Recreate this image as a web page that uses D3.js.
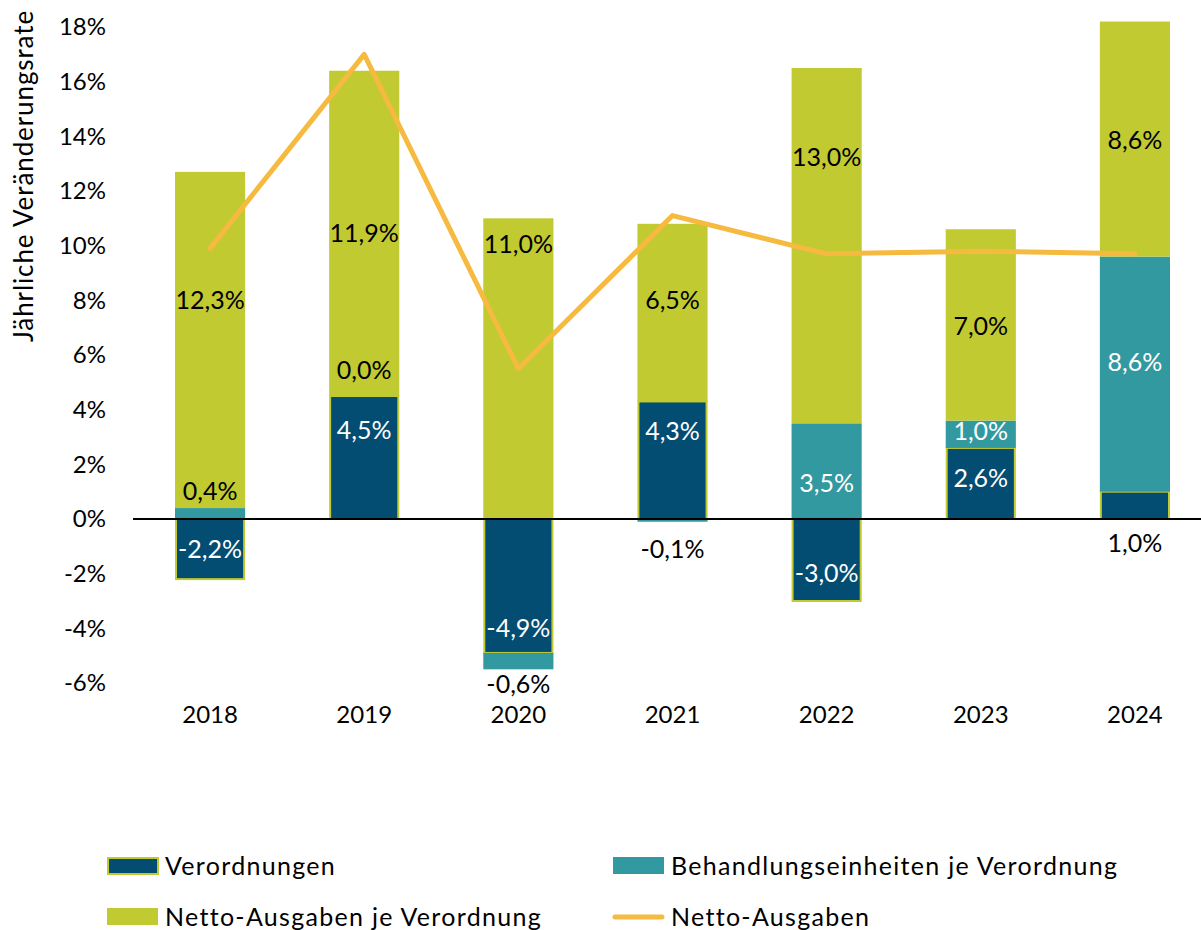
<!DOCTYPE html>
<html>
<head>
<meta charset="utf-8">
<script src="https://cdn.jsdelivr.net/npm/d3@7"></script>
<style>
  html, body { margin: 0; padding: 0; background: #fff; }
  svg { display: block; font-family: Lato, "Open Sans", sans-serif; }
</style>
</head>
<body>
<svg id="chart" width="1201" height="930"></svg>
<script>
// Chart values
const years = ['2018', '2019', '2020', '2021', '2022', '2023', '2024'];
const verordnungen = [-2.2, 4.5, -4.9, 4.3, -3.0, 2.6, 1.0];
const behandlungseinheiten = [0.4, 0.0, -0.6, -0.1, 3.5, 1.0, 8.6];
const nettoJeVerordnung = [12.3, 11.9, 11.0, 6.5, 13.0, 7.0, 8.6];
const nettoAusgaben = [9.9, 17.0, 5.5, 11.1, 9.7, 9.8, 9.7];
const yTicks = [-6, -4, -2, 0, 2, 4, 6, 8, 10, 12, 14, 16, 18];

const seriesNames = ['Verordnungen', 'Behandlungseinheiten je Verordnung', 'Netto-Ausgaben je Verordnung'];
const lineName = 'Netto-Ausgaben';

const colors = {
  Verordnungen: '#034c72',
  'Behandlungseinheiten je Verordnung': '#3399a0',
  'Netto-Ausgaben je Verordnung': '#c1ca31',
  line: '#f6ba40',
};

const svg = d3.select('#chart');
// German style: comma decimal, plain hyphen as minus
const de = d3.formatLocale({ decimal: ',', thousands: '.', grouping: [3], currency: ['', ' €'], minus: '-' });
const fmt = (v) => de.format('.1f')(v) + '%';

const x = d3.scaleBand().domain(years).range([133, 1212])
  .paddingInner(0.545).paddingOuter(0.2725);
const y = d3.scaleLinear().domain([-6, 18]).range([683, 27]);

const table = years.map((yr, i) => ({
  year: yr,
  Verordnungen: verordnungen[i],
  'Behandlungseinheiten je Verordnung': behandlungseinheiten[i],
  'Netto-Ausgaben je Verordnung': nettoJeVerordnung[i],
}));

const stacked = d3.stack().keys(seriesNames).offset(d3.stackOffsetDiverging)(table);

// bars
const groups = svg.append('g').selectAll('g').data(stacked).join('g')
  .attr('fill', (s) => colors[s.key]);

groups.selectAll('rect').data((s) => s.map((d) => ({ key: s.key, d })))
  .join('rect')
  .attr('x', (o) => x(o.d.data.year) + (o.key === 'Verordnungen' ? 1 : 0))
  .attr('width', (o) => x.bandwidth() - (o.key === 'Verordnungen' ? 2 : 0))
  .attr('y', (o) => y(Math.max(o.d[0], o.d[1])))
  .attr('height', (o) => Math.abs(y(o.d[0]) - y(o.d[1])))
  .attr('stroke', (o) => (o.key === 'Verordnungen' ? colors['Netto-Ausgaben je Verordnung'] : 'none'))
  .attr('stroke-width', 2);

// zero line
svg.append('line')
  .attr('x1', 133).attr('x2', 1201)
  .attr('y1', y(0)).attr('y2', y(0))
  .attr('stroke', '#000').attr('stroke-width', 2);

// y axis (labels only)
const yAxis = svg.append('g')
  .attr('transform', 'translate(106,0)')
  .call(d3.axisLeft(y).tickValues(yTicks).tickSize(0).tickPadding(0).tickFormat((d) => d + '%'));
yAxis.select('.domain').remove();
yAxis.selectAll('text').attr('font-size', 24).attr('font-family', 'Lato, sans-serif').attr('fill', '#000');

// x axis (labels only)
const xAxis = svg.append('g')
  .attr('transform', 'translate(0,706)')
  .call(d3.axisBottom(x).tickSize(0).tickPadding(0));
xAxis.select('.domain').remove();
xAxis.selectAll('text').attr('font-size', 24).attr('font-family', 'Lato, sans-serif').attr('fill', '#000');

// axis title
svg.append('text')
  .attr('transform', 'translate(33,176) rotate(-90)')
  .attr('text-anchor', 'middle')
  .attr('font-size', 26)
  .attr('letter-spacing', 0.9)
  .text('Jährliche Veränderungsrate');

// line
const line = d3.line().x((d, i) => x(years[i]) + x.bandwidth() / 2).y((d) => y(d));
svg.append('path')
  .datum(nettoAusgaben)
  .attr('d', line)
  .attr('fill', 'none')
  .attr('stroke', colors.line)
  .attr('stroke-width', 5)
  .attr('stroke-linejoin', 'round')
  .attr('stroke-linecap', 'round');

// data labels: where each label sits (value units), hand placed like the original
const labelAt = {
  Verordnungen: [-1.1, 3.25, -4.0, 3.2, -2.0, 1.5, -0.9],
  'Behandlungseinheiten je Verordnung': [1.0, 5.45, -6.05, -1.1, 1.3, 3.2, 5.75],
  'Netto-Ausgaben je Verordnung': [8.0, 10.45, 10.05, 8.0, 13.25, 7.05, 13.85],
};
const labelColor = (key, i) => {
  const at = labelAt[key][i];
  const seg = stacked.find((s) => s.key === key)[i];
  const lo = Math.min(seg[0], seg[1]);
  const hi = Math.max(seg[0], seg[1]);
  const inside = at >= lo && at <= hi && hi - lo > 0.5;
  return inside && key !== 'Netto-Ausgaben je Verordnung' ? '#fff' : '#000';
};

const labels = [];
seriesNames.forEach((key) => {
  table.forEach((row, i) => labels.push({ key, i, v: row[key] }));
});
svg.append('g').selectAll('text').data(labels).join('text')
  .attr('x', (l) => x(years[l.i]) + x.bandwidth() / 2)
  .attr('y', (l) => y(labelAt[l.key][l.i]))
  .attr('dy', '0.35em')
  .attr('text-anchor', 'middle')
  .attr('font-size', 25)
  .attr('fill', (l) => labelColor(l.key, l.i))
  .text((l) => fmt(l.v));

// legend
const legendItems = [
  { name: seriesNames[0], type: 'rect', col: 0, row: 0 },
  { name: seriesNames[1], type: 'rect', col: 1, row: 0 },
  { name: seriesNames[2], type: 'rect', col: 0, row: 1 },
  { name: lineName, type: 'line', col: 1, row: 1 },
];
const legend = svg.append('g').selectAll('g').data(legendItems).join('g')
  .attr('transform', (d) => `translate(${d.col ? 613 : 107},${d.row ? 917 : 866})`);
legend.each(function (d) {
  const g = d3.select(this);
  if (d.type === 'rect') {
    g.append('rect')
      .attr('x', d.name === 'Verordnungen' ? 1 : 0)
      .attr('y', d.name === 'Verordnungen' ? -8 : -9)
      .attr('width', d.name === 'Verordnungen' ? 50 : 51)
      .attr('height', d.name === 'Verordnungen' ? 16 : 17)
      .attr('fill', colors[d.name])
      .attr('stroke', d.name === 'Verordnungen' ? colors['Netto-Ausgaben je Verordnung'] : 'none')
      .attr('stroke-width', 2);
  } else {
    g.append('line')
      .attr('x1', 2).attr('x2', 49).attr('y1', 0).attr('y2', 0)
      .attr('stroke', colors.line).attr('stroke-width', 5).attr('stroke-linecap', 'round');
  }
  g.append('text')
    .attr('x', 58)
    .attr('dy', '0.35em')
    .attr('font-size', 25)
    .attr('letter-spacing', 1.3)
    .text(d.name);
});
</script>
</body>
</html>
